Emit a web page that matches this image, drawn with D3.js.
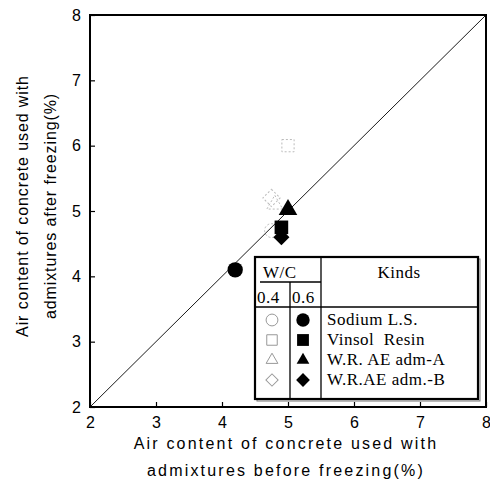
<!DOCTYPE html>
<html>
<head>
<meta charset="utf-8">
<script src="https://cdn.jsdelivr.net/npm/d3@7"></script>
<style>
  body { margin: 0; background: #fff; }
  svg { display: block; }
</style>
</head>
<body>
<svg width="490" height="481"></svg>
<script>
// data
var ticks = [2, 3, 4, 5, 6, 7, 8];
var kinds = ["Sodium L.S.", "Vinsol  Resin", "W.R. AE adm-A", "W.R.AE adm.-B"];
var shapes = ["circle", "square", "triangle", "diamond"];
// w/c 0.4 (open marks, faint) : [before, after]
var open04 = [[4.75, 4.7], [5.0, 6.0], [4.8, 5.1], [4.75, 5.2]];
// w/c 0.6 (filled marks)
var fill06 = [[4.2, 4.1], [4.9, 4.75], [5.0, 5.02], [4.9, 4.6]];

var svg = d3.select("svg");
var margin = {left: 90, top: 15, right: 4, bottom: 74};
var width = 486 - margin.left,
    height = 407 - margin.top;

var x = d3.scaleLinear().domain([2, 8]).range([0, width]);
var y = d3.scaleLinear().domain([2, 8]).range([height, 0]);

// symbol helper: diamond is a square turned 45 degrees
function shapePath(s, size) {
  if (s == "circle") return d3.symbol().type(d3.symbolCircle).size(size)();
  if (s == "triangle") return d3.symbol().type(d3.symbolTriangle).size(size)();
  return d3.symbol().type(d3.symbolSquare).size(size)();
}
function shapeRot(s) { return s == "diamond" ? " rotate(45)" : ""; }

var g = svg.append("g")
  .attr("transform", "translate(" + margin.left + "," + margin.top + ")");

// diagonal 1:1 line
g.append("line")
  .attr("x1", x(2)).attr("y1", y(2))
  .attr("x2", x(8)).attr("y2", y(8))
  .attr("stroke", "#000").attr("stroke-width", 0.9);

// axes with inward ticks
var xAxis = g.append("g")
  .attr("transform", "translate(0," + height + ")")
  .call(d3.axisBottom(x).tickValues(ticks).tickFormat(d3.format("d"))
    .tickSizeInner(-5).tickSizeOuter(0).tickPadding(10));
var yAxis = g.append("g")
  .call(d3.axisLeft(y).tickValues(ticks).tickFormat(d3.format("d"))
    .tickSizeInner(-5).tickSizeOuter(0).tickPadding(9));

[xAxis, yAxis].forEach(function(a) {
  a.select(".domain").remove();
  a.selectAll("line").attr("stroke", "#000").attr("stroke-width", 1.2);
  a.selectAll("text")
    .attr("font-family", "Liberation Sans, Arial, sans-serif")
    .attr("font-size", 16).attr("fill", "#000");
});

// frame
g.append("rect")
  .attr("width", width).attr("height", height)
  .attr("fill", "none").attr("stroke", "#000").attr("stroke-width", 2);

// points
g.selectAll(".open")
  .data(open04).enter().append("path")
  .attr("transform", function(d, i) { return "translate(" + x(d[0]) + "," + y(d[1]) + ")" + shapeRot(shapes[i]); })
  .attr("d", function(d, i) { return shapePath(shapes[i], i == 2 ? 110 : 150); })
  .attr("fill", "none").attr("stroke", "#bbb").attr("stroke-width", 1)
  .attr("stroke-dasharray", "2,2");

g.selectAll(".fill")
  .data(fill06).enter().append("path")
  .attr("transform", function(d, i) { return "translate(" + x(d[0]) + "," + y(d[1]) + ")" + shapeRot(shapes[i]); })
  .attr("d", function(d, i) { return shapePath(shapes[i], i == 2 ? 150 : i == 3 ? 130 : 185); })
  .attr("fill", "#000");

// legend table
var lg = svg.append("g").attr("transform", "translate(255,257)");
var lw = 223, lh = 142;
lg.append("rect").attr("x", 2).attr("y", 2).attr("width", lw).attr("height", lh)
  .attr("fill", "none").attr("stroke", "#777").attr("stroke-width", 1);
lg.append("rect").attr("width", lw).attr("height", lh)
  .attr("fill", "#fff").attr("stroke", "#000").attr("stroke-width", 2.2);

function hline(x1, x2, yy) {
  lg.append("line").attr("x1", x1).attr("x2", x2).attr("y1", yy).attr("y2", yy)
    .attr("stroke", "#000").attr("stroke-width", 1.3);
}
function vline(xx, y1, y2) {
  lg.append("line").attr("x1", xx).attr("x2", xx).attr("y1", y1).attr("y2", y2)
    .attr("stroke", "#000").attr("stroke-width", 1.3);
}
hline(5, 66, 25);
hline(0, lw, 50);
vline(66, 0, lh);
vline(35, 25, lh);

var serif = "Liberation Serif, Times New Roman, serif";
function ltext(xx, yy, t, anchor) {
  return lg.append("text").attr("x", xx).attr("y", yy).text(t)
    .attr("text-anchor", anchor || "start")
    .attr("font-family", serif).attr("font-size", 17).attr("letter-spacing", 0.5)
    .style("white-space", "pre");
}
ltext(8, 21, "W/C");
ltext(144, 21, "Kinds", "middle");
ltext(2, 46, "0.4");
ltext(37, 46, "0.6");

var rowY = d3.scaleLinear().domain([0, 3]).range([63, 123]);
kinds.forEach(function(k, i) {
  var yy = rowY(i);
  var s = shapes[i];
  lg.append("path")
    .attr("transform", "translate(17," + yy + ")" + shapeRot(s))
    .attr("d", shapePath(s, i == 2 ? 60 : i == 3 ? 75 : 110))
    .attr("fill", "none").attr("stroke", "#999").attr("stroke-width", 1);
  lg.append("path")
    .attr("transform", "translate(48," + yy + ")" + shapeRot(s))
    .attr("d", shapePath(s, i == 2 ? 70 : i == 3 ? 95 : 140))
    .attr("fill", "#000");
  ltext(72, yy + 5, k);
});

// axis titles
var sans = "Liberation Sans, Arial, sans-serif";
var xt = svg.append("text").attr("text-anchor", "middle")
  .attr("font-family", sans).attr("font-size", 16).attr("letter-spacing", 2.2);
xt.append("tspan").attr("x", 286).attr("y", 449).text("Air content of concrete used with");
xt.append("tspan").attr("x", 286).attr("y", 476).text("admixtures before freezing(%)");

var yt = svg.append("text").attr("text-anchor", "middle")
  .attr("transform", "translate(0,206) rotate(-90)")
  .attr("font-family", sans).attr("font-size", 16).attr("letter-spacing", 0.9);
yt.append("tspan").attr("x", 0).attr("y", 28).text("Air content of concrete used with");
yt.append("tspan").attr("x", 0).attr("y", 56).text("admixtures after freezing(%)");
</script>
</body>
</html>
